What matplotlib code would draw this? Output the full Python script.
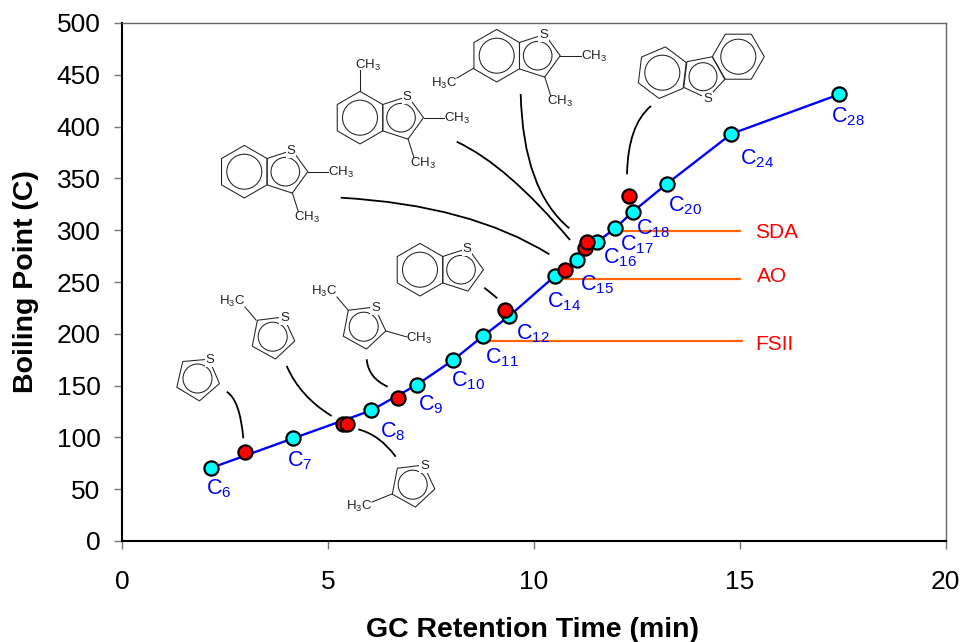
import numpy as np
import matplotlib
matplotlib.use('Agg')
import matplotlib.pyplot as plt
from matplotlib.path import Path
import matplotlib.patches as patches

plt.rcParams['font.family'] = ['Liberation Sans', 'DejaVu Sans']
plt.rcParams['mathtext.default'] = 'regular'

# n-alkane standards
alkane_carbons = [6, 7, 8, 9, 10, 11, 12, 14, 15, 16, 17, 18, 20, 24, 28]
alkane_time = [2.16, 4.15, 6.05, 7.17, 8.04, 8.77, 9.4, 10.52, 11.06, 11.54, 11.98, 12.41, 13.24, 14.8, 17.41]
alkane_bp = [70.5, 99, 126, 151, 174.6, 197.9, 217, 256, 271.5, 288.6, 302, 318, 345, 393, 431]

# sulfur compounds
sulfur_time = [2.99, 5.37, 5.47, 6.71, 9.31, 10.77, 11.25, 11.3, 12.32]
sulfur_bp = [86, 113, 113, 138, 223, 262, 283, 289, 333]

# fuel final boiling points
fuel_names = ['SDA', 'AO', 'FSII']
fuel_bp = [299, 253, 193]
fuel_start = [12.15, 10.64, 8.9]
fuel_end = [15.02, 15.0, 15.05]

x_ticks = [0, 5, 10, 15, 20]
y_ticks = list(range(0, 501, 50))

W, H = 963, 642


def ring(ov, cx, cy, r, n, angle, inner):
    """Polygon with an inscribed circle, angle in screen degrees."""
    a = np.radians(angle + np.arange(n) * 360 / n)
    pts = np.column_stack([cx + r * np.cos(a), cy + r * np.sin(a)])
    ov.add_patch(patches.Polygon(pts, closed=True, fill=False, ec='#222222', lw=0.75, zorder=2))
    ov.add_patch(patches.Circle((cx, cy), inner, fill=False, ec='#222222', lw=0.75, zorder=2))
    return pts


def sulfur(ov, x, y):
    ov.text(x, y, 'S', fontsize=9.5, color='#222222', ha='center', va='center', zorder=3,
            bbox=dict(fc='white', ec='none', pad=0.6))


def bond(ov, x0, y0, x1, y1):
    ov.plot([x0, x1], [y0, y1], color='#222222', lw=0.75, zorder=2)


def methyl(ov, x, y, left=False):
    s = 'H$_3$C' if left else 'CH$_3$'
    ov.text(x, y, s, fontsize=9.5, color='#222222', ha='center', va='center', zorder=3)


def thiophene(ov, cx, cy, angle=-61):
    pts = ring(ov, cx, cy, 22.5, 5, angle, 14.5)
    sulfur(ov, pts[0, 0] + 1, pts[0, 1] + 1)
    return pts


def benzothiophene(ov, cx, cy):
    hex_pts = ring(ov, cx, cy, 26.3, 6, 30, 17.5)
    pent_pts = ring(ov, cx + 41, cy, 22.5, 5, 0, 14.3)
    sulfur(ov, pent_pts[4, 0] - 1, pent_pts[4, 1] + 1)
    return hex_pts, pent_pts


def dimethyl(ov, cx, cy):
    benzothiophene(ov, cx, cy)
    bond(ov, cx + 63.5, cy, cx + 84, cy)
    bond(ov, cx + 48, cy + 21, cx + 54, cy + 40)
    methyl(ov, cx + 97, cy + 1)
    methyl(ov, cx + 63, cy + 46)


def curve(ov, p0, c, p1):
    path = Path([p0, c, p1], [Path.MOVETO, Path.CURVE3, Path.CURVE3])
    ov.add_patch(patches.PathPatch(path, fill=False, ec='black', lw=1.3, zorder=4))


def main():
    fig = plt.figure(figsize=(W / 100, H / 100), dpi=100)
    ax = fig.add_axes([122 / W, 1 - 541 / H, 823.5 / W, 518 / H])
    ax.set_xlim(0, 20)
    ax.set_ylim(0, 500)
    ax.set_xticks(x_ticks)
    ax.set_yticks(y_ticks)
    ax.tick_params(axis='x', labelsize=19, length=5.5, width=1, color='#777777', pad=15.5)
    ax.tick_params(axis='y', labelsize=19, length=6, width=1, color='#777777', pad=9.5)
    ax.spines['left'].set_linewidth(1.5)
    ax.spines['bottom'].set_linewidth(1.5)
    ax.spines['top'].set_color('#666666')
    ax.spines['right'].set_color('#666666')
    ax.spines['top'].set_linewidth(1.0)
    ax.spines['right'].set_linewidth(1.0)

    fig.text(533 / W, 1 - 630 / H, 'GC Retention Time (min)', fontsize=20.5, fontweight='bold',
             ha='center', va='center')
    fig.text(26 / W, 1 - 282 / H, 'Boiling Point (C)', fontsize=20.5, fontweight='bold',
             rotation=90, ha='center', va='center')

    for y, x0, x1 in zip(fuel_bp, fuel_start, fuel_end):
        ax.plot([x0, x1], [y, y], color='#ff6600', lw=1.6, zorder=2)
    ax.plot(alkane_time, alkane_bp, color='#0000ff', lw=1.7, zorder=3)
    ax.plot(alkane_time, alkane_bp, 'o', ms=10.2, mfc='#00ffff', mec='black', mew=1.6, zorder=4)
    ax.plot(sulfur_time, sulfur_bp, 'o', ms=10.2, mfc='#ff0000', mec='black', mew=1.6, zorder=5)

    # overlay in picture pixels for the hand drawn structures and labels
    ov = fig.add_axes([0, 0, 1, 1], facecolor='none')
    ov.set_xlim(0, W)
    ov.set_ylim(H, 0)
    ov.axis('off')

    label_pos = [(219, 489), (300, 461), (393, 432), (431, 405), (468, 381), (502, 358), (533, 334),
                 (564, 302), (597, 285), (620, 258), (637, 245), (653, 229), (685, 206), (757, 159), (848, 117)]
    for n, (x, y) in zip(alkane_carbons, label_pos):
        ov.text(x, y, 'C$_{%d}$' % n, fontsize=15.5, color='#0000ff', ha='center', va='center', zorder=6)

    for name, (x, y) in zip(fuel_names, [(777, 232), (772, 277), (774, 344)]):
        ov.text(x, y, name, fontsize=15, color='#ff0000', ha='center', va='center', zorder=6)

    # thiophenes
    thiophene(ov, 197.5, 378.5, -59)
    thiophene(ov, 272.7, 336.7)
    bond(ov, 256, 320, 245, 307)
    methyl(ov, 232, 301, left=True)
    thiophene(ov, 363.7, 326.7)
    bond(ov, 348, 310, 337, 297)
    methyl(ov, 324, 291, left=True)
    bond(ov, 386, 331, 407, 337)
    methyl(ov, 419, 338)
    thiophene(ov, 412.7, 484.7)
    bond(ov, 392, 494, 372, 502)
    methyl(ov, 359, 506, left=True)

    # benzothiophenes
    benzothiophene(ov, 420, 269.7)
    dimethyl(ov, 244.3, 171.7)
    dimethyl(ov, 360, 117.7)
    bond(ov, 360, 91, 360, 70)
    methyl(ov, 368, 65)
    dimethyl(ov, 496.7, 55.7)
    bond(ov, 474, 68, 457, 78)
    methyl(ov, 444, 83, left=True)

    # dibenzothiophene
    ring(ov, 662.3, 72.7, 26, 6, -83, 17.5)
    ring(ov, 738.3, 56.7, 26, 6, 0, 17.5)
    ring(ov, 703, 76.7, 22, 5, 79, 14)
    sulfur(ov, 707.5, 99)

    curve(ov, (226.7, 391.7), (240, 400), (243.3, 438.3))
    curve(ov, (286.7, 366), (300, 396.7), (331.7, 416))
    curve(ov, (366.7, 359.3), (368.3, 378), (387.7, 386.7))
    curve(ov, (358.3, 429.3), (380, 435), (395.7, 456.7))
    curve(ov, (484.3, 287.7), (491, 293), (497.3, 298.3))
    curve(ov, (340.7, 197.7), (470, 205), (549.3, 254.3))
    curve(ov, (456.7, 141.7), (507, 165), (570, 240))
    curve(ov, (520.7, 94), (523, 190), (569.3, 228.3))
    curve(ov, (651, 106), (628, 125), (627, 174.3))

    fig.savefig('out.png', dpi=100)


main()
